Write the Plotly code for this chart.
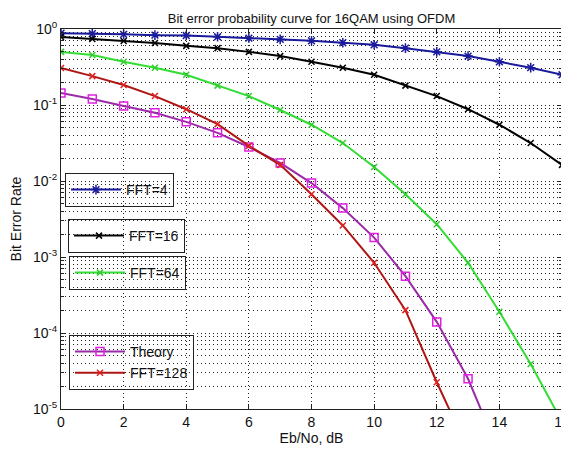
import plotly.graph_objects as go

TITLE = "Bit error probability curve for 16QAM using OFDM"
X_LABEL = "Eb/No, dB"
Y_LABEL = "Bit Error Rate"

ebno_db = list(range(17))

ber_fft4 = [0.88, 0.87, 0.85, 0.83, 0.82, 0.79, 0.76, 0.73, 0.70, 0.66, 0.62,
            0.56, 0.50, 0.44, 0.37, 0.31, 0.25]
ber_fft16 = [0.785, 0.74, 0.695, 0.654, 0.60, 0.56, 0.50, 0.44, 0.37, 0.31, 0.25,
             0.18, 0.131, 0.088, 0.055, 0.0316, 0.0163]
ber_fft64 = [0.50, 0.455, 0.37, 0.31, 0.25, 0.18, 0.131, 0.086, 0.055, 0.0316,
             0.0153, 0.0067, 0.0027, 0.00084, 0.00019, 3.9e-5, 6.8e-6]
ber_theory = [0.144, 0.12, 0.097, 0.079, 0.060, 0.043, 0.028, 0.0173, 0.0094,
              0.0044, 0.0018, 5.6e-4, 1.4e-4, 2.5e-5, 2.6e-6]
ber_fft128 = [0.307, 0.24, 0.183, 0.131, 0.088, 0.056, 0.029, 0.0163, 0.0067,
              0.0026, 8.4e-4, 2.0e-4, 2.25e-5, 2.9e-6]

x_ticks = list(range(0, 17, 2))
y_tick_exps = [-5, -4, -3, -2, -1, 0]
y_tick_text = ["10<sup>%d</sup>" % e for e in y_tick_exps]

FONT = "Liberation Sans, Arial, sans-serif"
OFF = 8  # default body margin of the html page

fig = go.Figure()

def add(name, y, line_color, marker_color, symbol, msize, legend):
    fig.add_trace(go.Scatter(
        x=ebno_db[:len(y)], y=y, name=name, mode="lines+markers",
        line=dict(color=line_color, width=2),
        marker=dict(symbol=symbol, size=msize, color=marker_color,
                    line=dict(color=marker_color, width=1.5)),
        legend=legend,
    ))

add("FFT=4", ber_fft4, "#1a1a9c", "#1a1a9c", "asterisk-open", 8, "legend")
add("FFT=16", ber_fft16, "#000000", "#000000", "x-thin-open", 6, "legend2")
add("FFT=64", ber_fft64, "#33dd33", "#33cc33", "x-thin-open", 6, "legend3")
add("Theory", ber_theory, "#9a2aa8", "#e020e0", "square-open", 8, "legend4")
add("FFT=128", ber_fft128, "#b01515", "#e02020", "x-thin-open", 6, "legend4")

minor_vals = [m * 10 ** e for e in range(-5, 0) for m in range(2, 10)]

# plot area in page pixels
PL, PR, PT, PB = 61, 562, 29, 409
W, H = 569 - OFF, 454 - OFF

def leg(xpx, ypx):
    return dict(
        x=(xpx - PL) / (PR - PL), y=(PB - ypx) / (PB - PT),
        xanchor="left", yanchor="top",
        bgcolor="rgba(0,0,0,0)", bordercolor="#222", borderwidth=1,
        font=dict(family=FONT, size=14, color="#111"), itemwidth=50,
        tracegroupgap=0,
    )

fig.update_layout(
    width=W, height=H,
    margin=dict(l=PL - OFF, r=W - (PR - OFF), t=PT - OFF, b=H - (PB - OFF),
                autoexpand=False),
    paper_bgcolor="white", plot_bgcolor="white",
    font=dict(family=FONT, size=13, color="#111"),
    title=dict(text=TITLE, x=((PL + PR) / 2 - OFF) / W, xanchor="center",
               y=1 - (18 - OFF) / H, yanchor="middle",
               font=dict(family=FONT, size=13, color="#111")),
    showlegend=True,
    legend=leg(65, 173),
    legend2=leg(68, 219),
    legend3=leg(69, 256),
    legend4=leg(69, 335),
)

fig.update_xaxes(
    range=[0, 16], tickmode="array", tickvals=x_ticks, automargin=False,
    ticklabeloverflow="allow",
    ticks="inside", ticklen=5, tickcolor="#222",
    showline=True, linecolor="#222", linewidth=1, mirror="ticks",
    showgrid=True, gridcolor="#222", gridwidth=1, griddash="1px,3px",
    zeroline=False,
    title=dict(text=X_LABEL, standoff=3, font=dict(family=FONT, size=14)),
    tickfont=dict(family=FONT, size=14),
)
fig.update_yaxes(
    type="log", range=[-5, 0], tickmode="array", automargin=False,
    tickvals=[10 ** e for e in y_tick_exps], ticktext=y_tick_text,
    ticks="inside", ticklen=5, tickcolor="#222",
    showline=True, linecolor="#222", linewidth=1, mirror="ticks",
    showgrid=True, gridcolor="#222", gridwidth=1, griddash="1px,3px",
    zeroline=False,
    minor=dict(tickmode="array", tickvals=minor_vals, ticks="inside",
               ticklen=3, tickcolor="#222", showgrid=True,
               gridcolor="#222", gridwidth=1, griddash="1px,3px"),
    title=dict(text=Y_LABEL, standoff=14, font=dict(family=FONT, size=14)),
    tickfont=dict(family=FONT, size=14),
)

fig.write_html("out.html")
